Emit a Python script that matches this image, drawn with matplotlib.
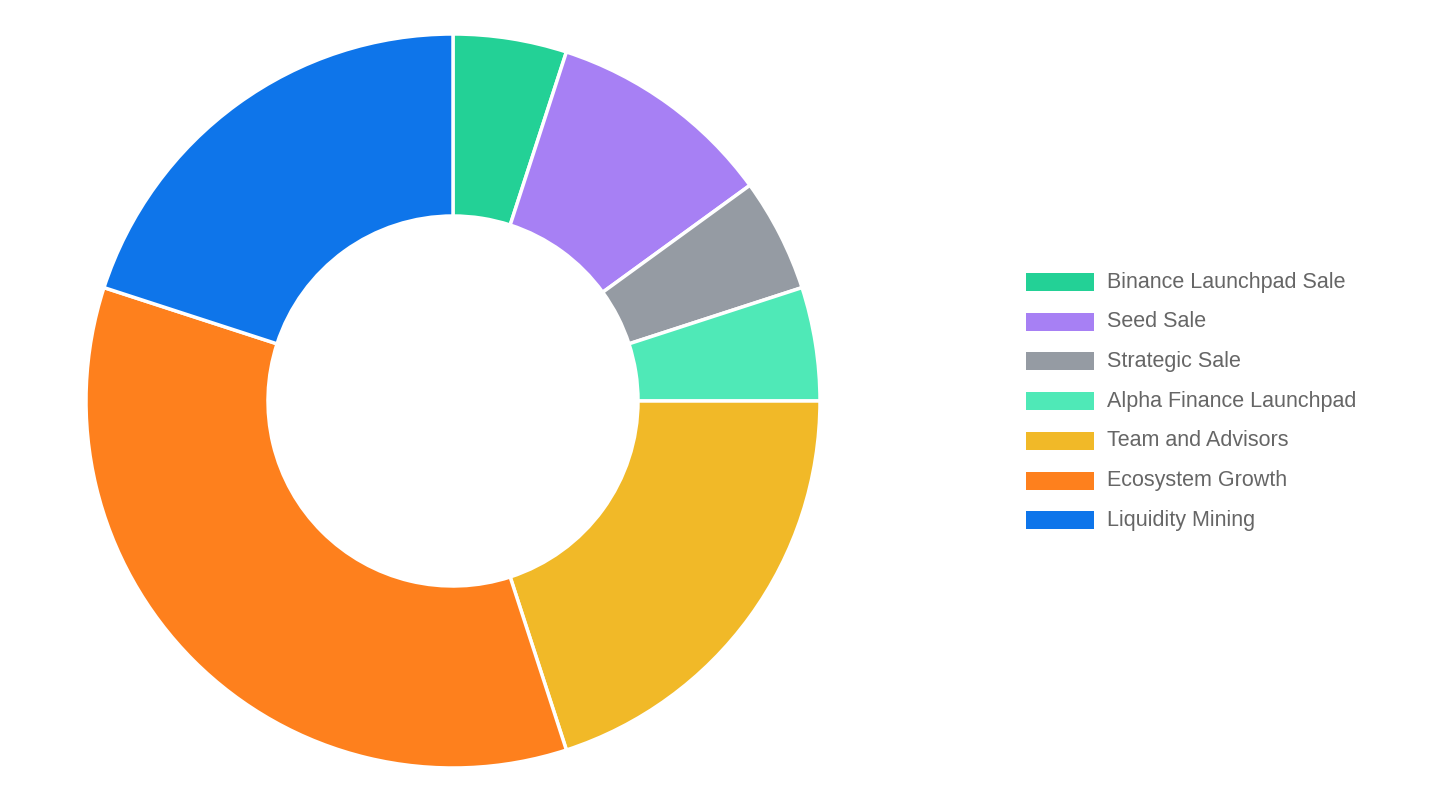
import matplotlib.pyplot as plt
from matplotlib.patches import Rectangle

labels = ["Binance Launchpad Sale", "Seed Sale", "Strategic Sale", "Alpha Finance Launchpad",
          "Team and Advisors", "Ecosystem Growth", "Liquidity Mining"]
values = [5, 10, 5, 5, 20, 35, 20]
colors = ["#23d196", "#a780f4", "#959ba3", "#4fe9b7", "#f1b928", "#fe801d", "#0e75ea"]

W, H = 1430, 806
fig = plt.figure(figsize=(W / 100, H / 100), dpi=100)
plt.rcParams['font.family'] = ['Liberation Sans', 'DejaVu Sans']

# donut: center (453, 401), outer radius 367 px
ax = fig.add_axes([86 / W, (H - 768) / H, 734 / W, 734 / H])
ax.pie(values, colors=colors, startangle=90, counterclock=False,
       wedgeprops=dict(width=182 / 367, edgecolor="white", linewidth=2.5))
ax.set_xlim(-1, 1)
ax.set_ylim(-1, 1)
ax.set_aspect("equal")

# legend drawn by hand
for i, (lab, col) in enumerate(zip(labels, colors)):
    yc = 282 + i * 39.7
    fig.add_artist(Rectangle((1026 / W, 1 - (yc + 9) / H), 68 / W, 18 / H,
                             transform=fig.transFigure, facecolor=col, edgecolor="none"))
    fig.text(1107 / W, 1 - yc / H, lab, fontsize=15.5, color="#666666", va="center", ha="left")

fig.savefig("out.png", dpi=100, facecolor="white")
